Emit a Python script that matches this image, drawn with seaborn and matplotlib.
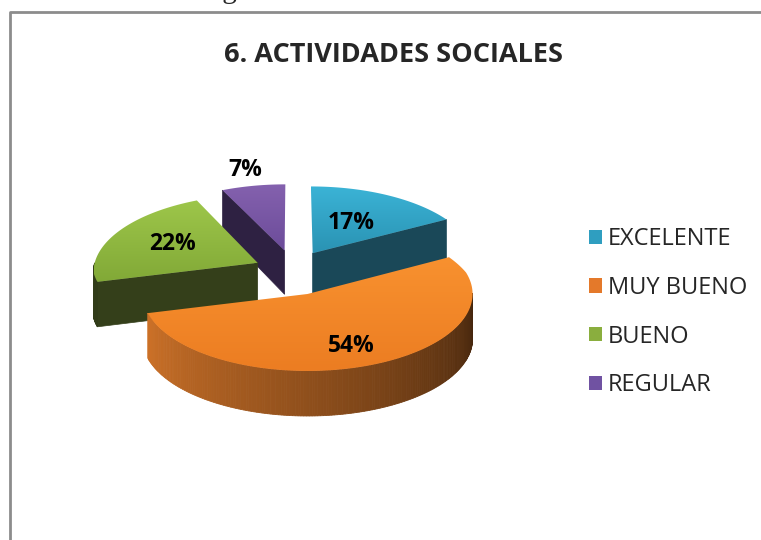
import numpy as np
import matplotlib
matplotlib.use("Agg")
import matplotlib.pyplot as plt
import seaborn as sns
from matplotlib.patches import Polygon, Patch
from matplotlib.colors import to_rgb

# data
categories = ["EXCELENTE", "MUY BUENO", "BUENO", "REGULAR"]
percent = [17, 54, 22, 7]
pct_labels = ["17%", "54%", "22%", "7%"]

# colours (top surface light/dark, side walls, legend)
top_light = ["#3BB3D6", "#F8912F", "#9DC64A", "#8461AE"]
top_dark = ["#2A93B3", "#EC7D22", "#82A937", "#6C4C9A"]
side_colors = ["#1A4858", "#D9782A", "#343F1A", "#2E2142"]
legend_colors = ["#2F9EC0", "#E4792A", "#8AAE3E", "#7052A2"]

# layout (pixels, y down)
W, H = 761, 540
CX, CY = 293, 272.5
RX, RY = 165, 77
DEPTH = 45
EXPLODE = 0.3
EXPLODE_X = 0.8      # horizontal explode is a bit smaller
PERSP = 0.10         # back of the pie shrinks a little
label_r = [0.5, 0.72, 0.6, 1.28]

sns.set_style("white")
plt.rcParams['font.family'] = ['Open Sans', 'DejaVu Sans']

fig = plt.figure(figsize=(W / 100, H / 100), dpi=100)
ax = fig.add_axes([0, 0, 1, 1])
ax.axis("off")


def plane(cx, cy, a, r=1.0, ex=1.0):
    a = np.radians(a)
    return cx + ex * r * RX * np.cos(a), cy - r * RY * np.sin(a)


def proj(x, y, h=0.0):
    # simple perspective: points behind the centre get pulled in
    x, y = np.asarray(x, float), np.asarray(y, float)
    ym = np.clip((CY - y) / RY, 0, None)
    k = 1 / (1 + PERSP * ym)
    return CX + (x - CX) * k, CY + (y - CY) * k + h * k


def grad_fill(xy, c1, c2, z):
    poly = Polygon(xy, closed=True, facecolor="none", edgecolor="none")
    ax.add_patch(poly)
    x0, y0 = xy.min(axis=0)
    x1, y1 = xy.max(axis=0)
    t = np.linspace(0, 1, 64)[:, None, None]
    img = np.array(to_rgb(c1)) * (1 - t) + np.array(to_rgb(c2)) * t
    img = np.repeat(img, 2, axis=1)
    im = ax.imshow(img, extent=(x0, x1, y1, y0), origin="upper",
                   aspect="auto", zorder=z, interpolation="bilinear")
    im.set_clip_path(poly)


# slice angles, clockwise from 12 o'clock
cum = np.concatenate([[0], np.cumsum(percent)]) / 100 * 360
t1s = 90 - cum[1:]
t2s = 90 - cum[:-1]
mids = (t1s + t2s) / 2

order = np.argsort(-np.sin(np.radians(mids)))
z = 1
for i in order:
    t1, t2, b = t1s[i], t2s[i], mids[i]
    vx, vy = plane(CX, CY, b, EXPLODE, EXPLODE_X)
    arc = np.linspace(t1, t2, 200)
    px, py = plane(vx, vy, arc)
    tx, ty = proj(px, py)
    bx, by = proj(px, py, DEPTH)
    vtx, vty = proj(vx, vy)
    vbx, vby = proj(vx, vy, DEPTH)

    # radial faces
    for t, n, k in [(t1, t1 - 90, 0), (t2, t2 + 90, -1)]:
        if np.sin(np.radians(n)) < -0.01:
            quad = [(vtx, vty), (tx[k], ty[k]), (bx[k], by[k]), (vbx, vby)]
            ax.add_patch(Polygon(quad, closed=True, facecolor=side_colors[i],
                                 edgecolor=side_colors[i], lw=0.5, zorder=z))
    z += 1

    # outer rim wall (front half only)
    base = np.array(to_rgb(side_colors[i]))
    for k in range(len(arc) - 1):
        m = (arc[k] + arc[k + 1]) / 2
        if np.sin(np.radians(m)) < 0:
            s = ((m % 360) - 180) / 180
            col = base * (1 - 0.68 * s)
            quad = [(tx[k], ty[k]), (tx[k + 1], ty[k + 1]),
                    (bx[k + 1], by[k + 1]), (bx[k], by[k])]
            ax.add_patch(Polygon(quad, closed=True, facecolor=col,
                                 edgecolor=col, lw=0.6, zorder=z))
    z += 1

    # top surface
    xy = np.vstack([[vtx, vty], np.column_stack([tx, ty])])
    grad_fill(xy, top_light[i], top_dark[i], z)
    z += 1

    lx, ly = proj(*plane(vx, vy, b, label_r[i]))
    ax.text(lx, ly, pct_labels[i], ha="center", va="center",
            fontsize=16.5, fontweight="bold", color="black", zorder=50)

ax.set_xlim(0, W)
ax.set_ylim(H, 0)

# frame and the caption above it, cut by the page edge
ax.plot([10, 10, W], [H, 12, 12], color="#8C8C8C", lw=2, zorder=60, clip_on=False)
ax.text(198, -2, "Figura 6. Actividades Sociales", ha="left", va="baseline",
        fontsize=21, family=["Liberation Serif", "DejaVu Serif"], clip_on=False)

fig.text(393 / W, 1 - 55 / H, "6. ACTIVIDADES SOCIALES", ha="center", va="center",
         fontsize=19.5, fontweight="bold")

handles = [Patch(facecolor=c, edgecolor="none") for c in legend_colors]
fig.legend(handles, categories, loc="upper left",
           bbox_to_anchor=(589 / W, 1 - 227 / H), frameon=False, fontsize=17,
           handlelength=0.55, handleheight=0.55, handletextpad=0.25,
           labelspacing=1.05, borderpad=0, borderaxespad=0)

fig.savefig("out.png", dpi=100)
